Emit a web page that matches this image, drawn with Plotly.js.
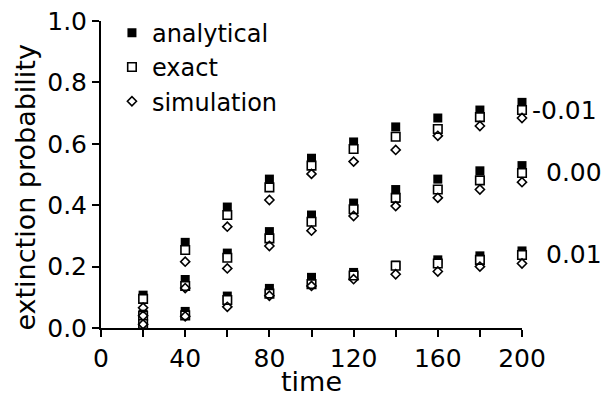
<!DOCTYPE html>
<html>
<head>
<meta charset="utf-8">
<script src="https://cdn.plot.ly/plotly-3.0.1.min.js"></script>
<style>
html,body{margin:0;padding:0;background:#fff;}
#chart{width:607px;height:399px;}
</style>
</head>
<body>
<div id="chart"></div>
<script>
// time points
const time = [20, 40, 60, 80, 100, 120, 140, 160, 180, 200];

// group labels (selection coefficient)
const groups = ['-0.01', '0.00', '0.01'];

// s = -0.01
const analyticalNeg = [0.107, 0.279, 0.394, 0.485, 0.553, 0.606, 0.655, 0.684, 0.710, 0.735];
const exactNeg      = [0.095, 0.254, 0.368, 0.458, 0.529, 0.583, 0.623, 0.648, 0.687, 0.710];
const simNeg        = [0.066, 0.216, 0.330, 0.417, 0.502, 0.542, 0.580, 0.626, 0.658, 0.684];

// s = 0.00
const analyticalZero = [0.045, 0.158, 0.244, 0.314, 0.368, 0.407, 0.451, 0.485, 0.512, 0.529];
const exactZero      = [0.040, 0.137, 0.229, 0.292, 0.346, 0.387, 0.424, 0.451, 0.481, 0.505];
const simZero        = [0.040, 0.130, 0.194, 0.267, 0.317, 0.365, 0.397, 0.424, 0.451, 0.475];

// s = 0.01
const analyticalPos = [0.015, 0.054, 0.104, 0.129, 0.165, 0.181, 0.205, 0.222, 0.235, 0.251];
const exactPos      = [0.013, 0.041, 0.091, 0.112, 0.143, 0.171, 0.203, 0.210, 0.222, 0.238];
const simPos        = [0.012, 0.038, 0.069, 0.105, 0.137, 0.159, 0.175, 0.184, 0.200, 0.210];

const seriesNames = ['analytical', 'exact', 'simulation'];

const allX = time.concat(time, time);
const analytical = analyticalNeg.concat(analyticalZero, analyticalPos);
const exact = exactNeg.concat(exactZero, exactPos);
const simulation = simNeg.concat(simZero, simPos);

const FONT = 'DejaVu Sans, Verdana, sans-serif';

const traces = [
  {x: allX, y: analytical, name: seriesNames[0], type: 'scatter', mode: 'markers', cliponaxis: false,
   marker: {symbol: 'square', size: 9, color: '#000', line: {width: 0}}},
  {x: allX, y: exact, name: seriesNames[1], type: 'scatter', mode: 'markers', cliponaxis: false,
   marker: {symbol: 'square', size: 8.5, color: '#fff', line: {width: 1.6, color: '#000'}}},
  {x: allX, y: simulation, name: seriesNames[2], type: 'scatter', mode: 'markers', cliponaxis: false,
   marker: {symbol: 'diamond-open', size: 7, color: '#000', line: {width: 1.6, color: '#000'}}}
];

const lastExact = [exactNeg[exactNeg.length-1], exactZero[exactZero.length-1], exactPos[exactPos.length-1]];
const annotations = groups.map((g, i) => ({
  x: time[time.length-1], y: lastExact[i], xref: 'x', yref: 'y',
  text: g, showarrow: false, xanchor: 'left', xshift: i === 0 ? 8 : 22,
  font: {family: FONT, size: 25, color: '#000'}
}));
annotations.push({
  xref: 'paper', yref: 'paper', x: -0.18, y: 0.458, xanchor: 'center', yanchor: 'middle',
  text: 'extinction probability',
  textangle: -90, showarrow: false, font: {family: FONT, size: 27, color: '#000'}
});
annotations.push({
  xref: 'paper', yref: 'paper', x: 0.5, y: -0.175, xanchor: 'center', yanchor: 'middle', text: 'time',
  showarrow: false, font: {family: FONT, size: 27, color: '#000'}
});

const layout = {
  width: 607, height: 399,
  margin: {l: 101, r: 85, t: 20, b: 71},
  paper_bgcolor: '#fff', plot_bgcolor: '#fff',
  showlegend: true,
  legend: {x: 0.026, y: 1.03, xanchor: 'left', yanchor: 'top', bgcolor: 'rgba(0,0,0,0)',
           font: {family: FONT, size: 24, color: '#000'}, tracegroupgap: 0, itemwidth: 30},
  xaxis: {range: [0, 200], showline: true, linewidth: 2, linecolor: '#000', mirror: false,
          ticks: 'outside', ticklen: 7, tickwidth: 2, tickcolor: '#000', dtick: 40, tick0: 0,
          minor: {dtick: 20, ticklen: 7, tickwidth: 2, tickcolor: '#000', ticks: 'outside'},
          showgrid: false, zeroline: false, tickfont: {family: FONT, size: 25, color: '#000'}},
  yaxis: {range: [0, 1.0], showline: true, linewidth: 2, linecolor: '#000',
          ticks: 'outside', ticklen: 7, tickwidth: 2, tickcolor: '#000', dtick: 0.2, tick0: 0,
          tickformat: '.1f', showgrid: false, zeroline: false,
          tickfont: {family: FONT, size: 25, color: '#000'}},
  annotations: annotations
};

Plotly.newPlot('chart', traces, layout, {displayModeBar: false, staticPlot: true});
</script>
</body>
</html>
